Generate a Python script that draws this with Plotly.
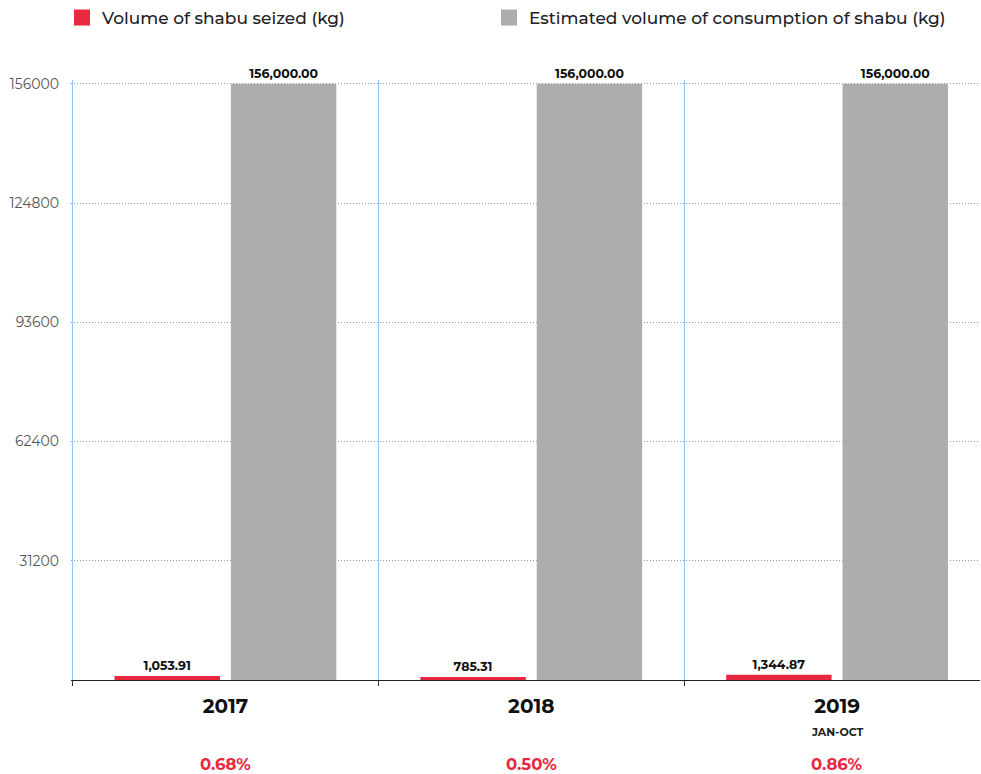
import plotly.graph_objects as go

years = ["2017", "2018", "2019"]
sub_labels = ["", "", "JAN-OCT"]
seized = [1053.91, 785.31, 1344.87]
consumption = [156000.00, 156000.00, 156000.00]
pct_labels = ["0.68%", "0.50%", "0.86%"]
y_ticks = [31200, 62400, 93600, 124800, 156000]
series_names = ["Volume of shabu seized (kg)", "Estimated volume of consumption of shabu (kg)"]

RED = "#e8283f"
GRAY = "#adadad"
FONT = "Montserrat, 'Open Sans', Lato, sans-serif"
label_font = dict(family=FONT, size=12.5, color="#111", weight="bold")

fig = go.Figure()
for vals, name, color in [(seized, series_names[0], RED), (consumption, series_names[1], GRAY)]:
    fig.add_trace(go.Bar(
        x=years, y=vals, name=name, showlegend=False,
        marker=dict(color=color, line=dict(width=0)),
        texttemplate="%{y:,.2f}", textposition="outside",
        textfont=label_font, cliponaxis=False,
    ))

# legend entries (square swatches)
for name, color, lg in [(series_names[0], RED, "legend"), (series_names[1], GRAY, "legend2")]:
    fig.add_trace(go.Scatter(
        x=[None], y=[None], mode="markers", name=name, legend=lg, showlegend=True,
        marker=dict(symbol="square", size=17, color=color),
    ))

for i, (sub, pct) in enumerate(zip(sub_labels, pct_labels)):
    if sub:
        fig.add_annotation(x=i, xref="x", y=0, yref="paper", text=sub, showarrow=False,
                           yshift=-60, borderpad=0,
                           font=dict(family=FONT, size=11, color="#222", weight="bold"))
    fig.add_annotation(x=i, xref="x", y=0, yref="paper", text=pct, showarrow=False,
                       yshift=-95, borderpad=0,
                       font=dict(family=FONT, size=16.5, color=RED, weight="bold"))

legend_common = dict(orientation="h", yref="container", y=1.0, yanchor="top", xref="container",
                     xanchor="left", font=dict(size=17, color="#222", weight=500),
                     bgcolor="rgba(0,0,0,0)", borderwidth=0)

fig.update_layout(
    width=981, height=774,
    margin=dict(l=71, r=1, t=80, b=94),
    paper_bgcolor="white", plot_bgcolor="white",
    barmode="group", bargap=0.239, bargroupgap=0.094,
    font=dict(family=FONT, color="#333"),
    showlegend=True,
    legend=dict(x=62 / 981, **legend_common),
    legend2=dict(x=489 / 981, **legend_common),
    xaxis=dict(
        type="category", range=[-0.5 - 1.5 / 306, 2.5 - 10 / 306],
        tickson="boundaries", ticks="outside", ticklen=5, tickcolor="#333",
        showgrid=True, gridcolor="#8cc4f5", gridwidth=1,
        showline=True, linecolor="#222", linewidth=1,
        ticklabelstandoff=8,
        tickfont=dict(family=FONT, size=20, color="#111", weight="bold"),
    ),
    yaxis=dict(
        range=[0, 157000], tickvals=y_ticks, ticktext=[str(v) for v in y_ticks],
        showgrid=True, gridcolor="#999", griddash="1px,2px", gridwidth=1,
        zeroline=False, showline=False, ticks="",
        ticklabelstandoff=11,
        tickfont=dict(family=FONT, size=14, color="#555"),
    ),
)

fig.write_html("out.html")
